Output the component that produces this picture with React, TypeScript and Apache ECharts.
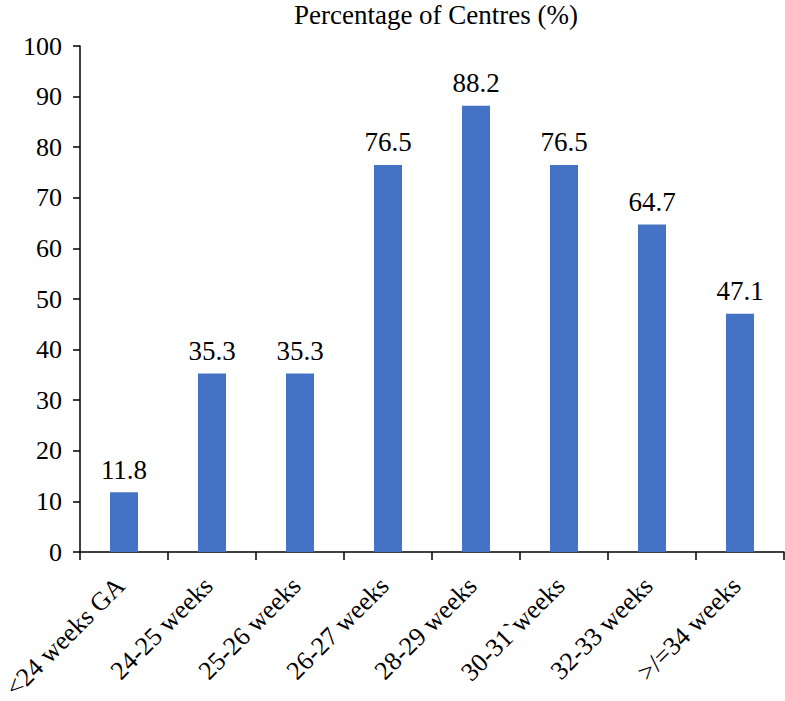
import React, { useEffect, useRef } from "react";
import * as echarts from "echarts";

const categories = [
  "<24 weeks GA",
  "24-25 weeks",
  "25-26 weeks",
  "26-27 weeks",
  "28-29 weeks",
  "30-31`weeks",
  "32-33 weeks",
  ">/=34 weeks",
];
const values = [11.8, 35.3, 35.3, 76.5, 88.2, 76.5, 64.7, 47.1];
const titleText = "Percentage of Centres (%)";

const FONT = "Liberation Serif";

export default function App() {
  const ref = useRef<HTMLDivElement>(null);
  useEffect(() => {
    if (!ref.current) return;
    const chart = echarts.init(ref.current, null, { renderer: "svg" });
    chart.setOption({
      animation: false,
      backgroundColor: "#ffffff",
      textStyle: { fontFamily: FONT },
      title: {
        text: titleText,
        left: 431,
        top: -4,
        textAlign: "center",
        textStyle: { fontFamily: FONT, fontSize: 27, fontWeight: "normal", color: "#000" },
      },
      grid: {
        left: 80,
        right: 1,
        top: 46,
        bottom: 149,
        containLabel: false,
        outerBoundsMode: "none",
      },
      xAxis: {
        type: "category",
        data: categories,
        axisLine: { lineStyle: { color: "#000", width: 1.5 } },
        axisTick: { show: true, length: 8, lineStyle: { color: "#000", width: 1.5 } },
        axisLabel: {
          rotate: 45,
          interval: 0,
          margin: 26,
          padding: [0, 5, 0, 0],
          fontFamily: FONT,
          fontSize: 26,
          color: "#000",
        },
      },
      yAxis: {
        type: "value",
        min: 0,
        max: 100,
        interval: 10,
        splitLine: { show: false },
        axisLine: { show: true, lineStyle: { color: "#000", width: 1.5 } },
        axisTick: { show: true, length: 7, lineStyle: { color: "#000", width: 1.5 } },
        axisLabel: { margin: 18, fontFamily: FONT, fontSize: 26, color: "#000" },
      },
      series: [
        {
          type: "bar",
          data: values,
          barWidth: 28,
          itemStyle: { color: "#4472C4" },
          label: {
            show: true,
            position: "top",
            distance: 9,
            fontFamily: FONT,
            fontSize: 27,
            color: "#000",
            formatter: (p: any) => p.value.toFixed(1),
          },
        },
      ],
    });
    return () => chart.dispose();
  }, []);
  return (
    <div
      ref={ref}
      style={{ position: "absolute", left: 0, top: 0, width: 785, height: 701, overflow: "hidden" }}
    />
  );
}
